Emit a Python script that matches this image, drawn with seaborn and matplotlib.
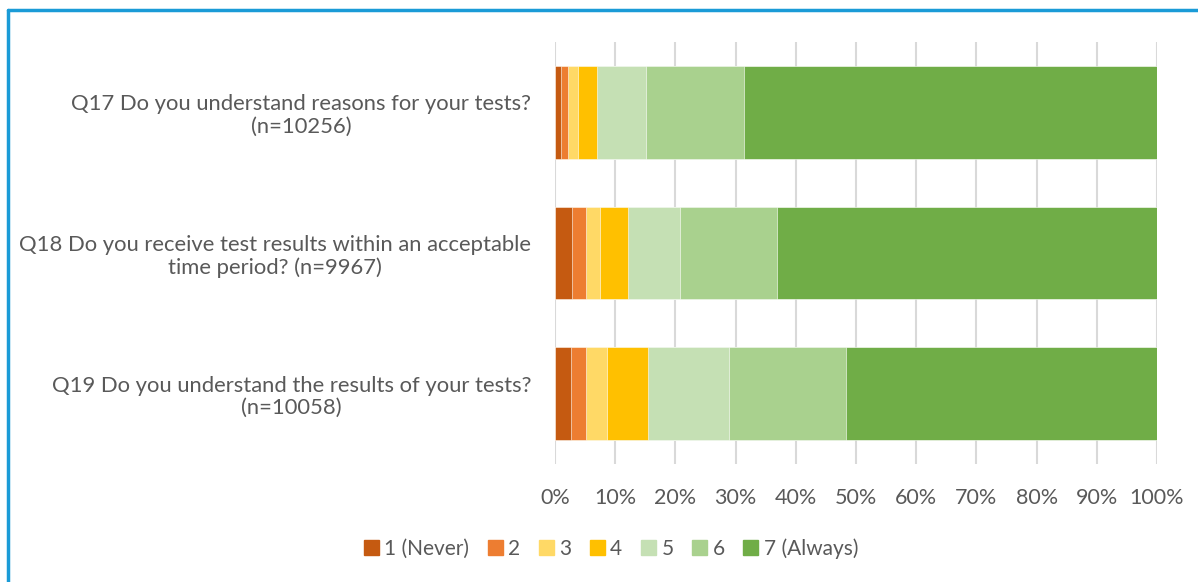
import numpy as np
import pandas as pd
import matplotlib.pyplot as plt
import matplotlib.patches as mpatches
import seaborn as sns

sns.set_theme(style="white")
plt.rcParams['font.family'] = ['Lato', 'DejaVu Sans']

# Data (percent of respondents per score)
questions = ['Q17 Do you understand reasons for your tests?\n(n=10256)',
             'Q18 Do you receive test results within an acceptable\ntime period? (n=9967)',
             'Q19 Do you understand the results of your tests?\n(n=10058)']
scores = ['1 (Never)', '2', '3', '4', '5', '6', '7 (Always)']
q17 = [1.0, 1.2, 1.6, 3.2, 8.1, 16.3, 68.6]
q18 = [2.8, 2.3, 2.4, 4.6, 8.7, 16.1, 63.1]
q19 = [2.7, 2.4, 3.5, 6.8, 13.5, 19.4, 51.7]
colors = ['#C55A11', '#ED7D31', '#FFD966', '#FFC000', '#C5E0B4', '#A9D18E', '#70AD47']

vals = np.array([q17, q18, q19])
cum = vals.cumsum(axis=1)

rows = []
for qi, q in enumerate(questions):
    for si, s in enumerate(scores):
        rows.append({'Question': q, 'Score': s, 'Cum': cum[qi, si]})
df = pd.DataFrame(rows)

fig = plt.figure(figsize=(11.98, 5.82), dpi=100)
ax = fig.add_axes([0.4633, 0.2027, 0.5025, 0.7251])

# draw from the full stack down, so each shorter bar covers the previous one
for si in range(len(scores) - 1, -1, -1):
    sub = df[df['Score'] == scores[si]]
    sns.barplot(data=sub, x='Cum', y='Question', color=colors[si], ax=ax,
                width=0.66, orient='h', edgecolor='white', linewidth=0.4,
                order=questions, saturation=1)

ax.set_xlim(0, 100)
ax.set_ylim(2.5, -0.5)
ax.set_xticks(np.arange(0, 101, 10))
ax.set_xticklabels([f'{t}%' for t in range(0, 101, 10)], fontsize=15.5, color='#595959')
ax.set_yticklabels(questions, fontsize=15.8, color='#595959', multialignment='center',
                   linespacing=1.15)
ax.tick_params(axis='x', length=0, pad=17)
ax.tick_params(axis='y', length=0, pad=17)
ax.set_xlabel('')
ax.set_ylabel('')
ax.xaxis.grid(True, color='#D9D9D9', linewidth=1.5)
ax.set_axisbelow(True)
for sp in ax.spines.values():
    sp.set_visible(False)

handles = [mpatches.Patch(color=c, label=s) for c, s in zip(colors, scores)]
fig.legend(handles=handles, loc='center', bbox_to_anchor=(0.51, 0.057), ncol=7,
           frameon=False, fontsize=15, labelcolor='#595959', handlelength=0.72,
           handleheight=0.72, handletextpad=0.25, columnspacing=0.9)

# blue frame lines (top and left) as in the source
fig.add_artist(plt.Line2D([0.0065, 1.0], [0.9825, 0.9825], color='#1A9BD7', lw=2.5,
                          transform=fig.transFigure))
fig.add_artist(plt.Line2D([0.0065, 0.0065], [0.0, 0.9825], color='#1A9BD7', lw=2.5,
                          transform=fig.transFigure))

fig.savefig('out.png', dpi=100)
